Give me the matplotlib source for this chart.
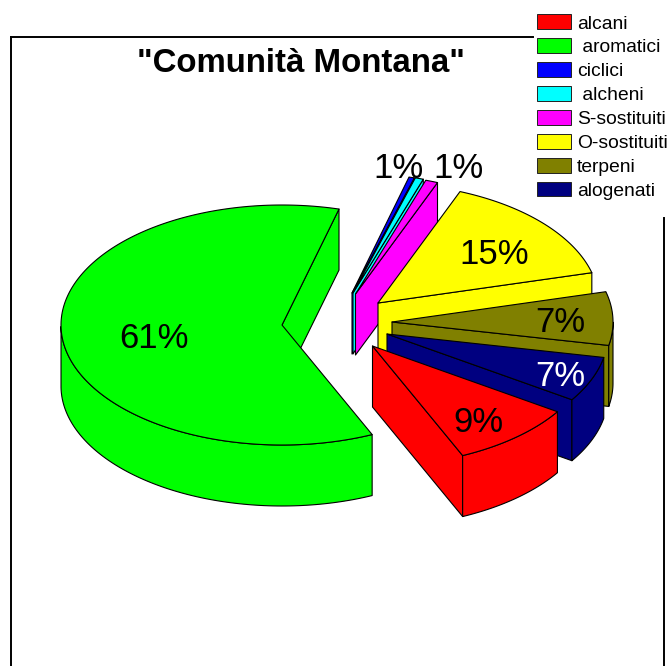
import numpy as np
import matplotlib
matplotlib.use('Agg')
import matplotlib.pyplot as plt
from matplotlib.patches import Polygon, Patch

plt.rcParams['font.family'] = 'Liberation Sans'

title = '"Comunità Montana"'
categories = ['alcani', ' aromatici', 'ciclici', ' alcheni', 'S-sostituiti',
              'O-sostituiti', 'terpeni', 'alogenati']
values = [9.1, 60.9, 0.4, 0.6, 0.9, 14.9, 7.2, 6.1]
colors = ['#ff0000', '#00ff00', '#0000ff', '#00ffff', '#ff00ff', '#ffff00',
          '#808000', '#000080']
pct_labels = ['9%', '61%', '', '1%', '1%', '15%', '7%', '7%']
label_colors = ['black', 'black', 'black', 'black', 'black', 'black', 'black', 'white']

# layout, pixels of the 669x666 picture
label_x = [478, 154, 0, 398, 458, 494, 560, 560]
label_y = [423, 338, 0, 169, 168, 254, 322, 376]
apex_x = [372.5, 282, 352, 353, 355.5, 378, 392, 387]
apex_y = [346, 325, 293, 293, 294, 303, 322, 334]
rx = 221
ry = 120
depth = 61
start_angle = -33.2
draw_order = [1, 2, 3, 4, 5, 6, 7, 0]
lw = 0.8

fig = plt.figure(figsize=(6.69, 6.66), dpi=100)
ax = fig.add_axes([0, 0, 1, 1])
ax.set_xlim(0, 669)
ax.set_ylim(666, 0)
ax.axis('off')

# frame, legend sits over its top right corner
ax.plot([11, 11], [37, 666], color='black', lw=1.4)
ax.plot([11, 533], [37, 37], color='black', lw=1.4)
ax.plot([664, 664], [218, 666], color='black', lw=1.4)


def rim(cx, cy, a, dy=0):
    a = np.radians(a)
    return np.column_stack([cx + rx*np.cos(a), cy - ry*np.sin(a) + dy])


def face(pts, color):
    ax.add_patch(Polygon(pts, closed=True, facecolor=color, edgecolor='black',
                         lw=lw, joinstyle='round'))


total = sum(values)
spans = [v/total*360 for v in values]
starts = start_angle - np.concatenate([[0], np.cumsum(spans)[:-1]])

for i in draw_order:
    cx, cy = apex_x[i], apex_y[i]
    a = np.linspace(starts[i], starts[i]-spans[i], 200)
    c = colors[i]
    # only the wall at the clockwise end ever faces the viewer here
    if np.cos(np.radians(a[-1])) > 0:
        p = rim(cx, cy, a[-1:])[0]
        face([[cx, cy], p, [p[0], p[1]+depth], [cx, cy+depth]], c)
    front = a[np.sin(np.radians(a)) < 0]
    if len(front) > 1:
        face(np.vstack([rim(cx, cy, front), rim(cx, cy, front[::-1], depth)]), c)
    face(np.vstack([[[cx, cy]], rim(cx, cy, a)]), c)

for i in range(len(values)):
    if pct_labels[i]:
        ax.text(label_x[i], label_y[i], pct_labels[i], color=label_colors[i],
                fontsize=25, ha='center', va='center')

ax.text(301, 63, title, fontsize=23.8, fontweight='bold', ha='center', va='center')

handles = [Patch(facecolor=c, edgecolor='#222222', lw=0.7) for c in colors]
fig.legend(handles, categories, loc='upper left', bbox_to_anchor=(537/669, 1-14.5/666),
           frameon=False, fontsize=13.9, borderpad=0, borderaxespad=0,
           handlelength=1.76, handleheight=0.8, handletextpad=0.3, labelspacing=0.3)

fig.savefig('out.png', dpi=100)
